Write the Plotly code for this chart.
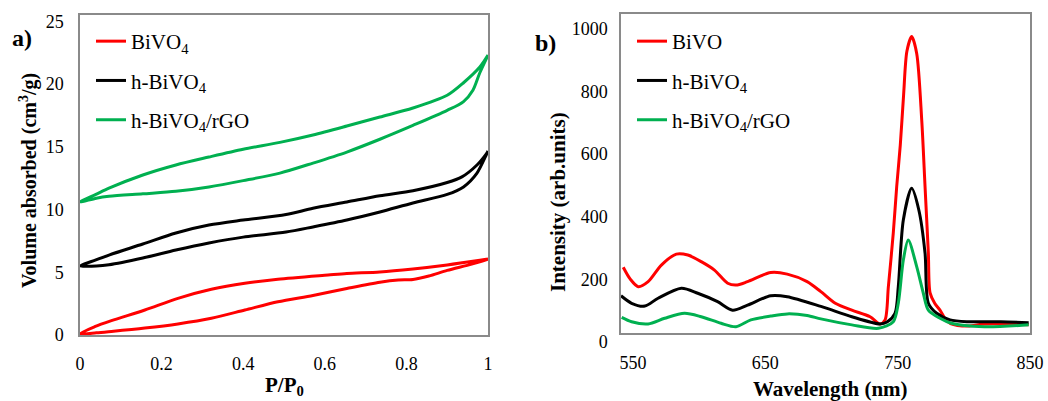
import plotly.graph_objects as go

# ---------------- Panel a) N2 adsorption-desorption isotherms ----------------
red_ads_p = [0, 0.04, 0.077, 0.159, 0.24, 0.322, 0.404, 0.485, 0.571, 0.654, 0.735, 0.78, 0.816, 0.855, 0.90, 0.96, 1.0]
red_ads_v = [0.1, 0.17, 0.28, 0.55, 0.88, 1.33, 1.99, 2.65, 3.15, 3.7, 4.2, 4.38, 4.42, 4.7, 5.15, 5.65, 6.05]
red_des_p = [1.0, 0.98, 0.90, 0.816, 0.735, 0.654, 0.608, 0.485, 0.404, 0.322, 0.24, 0.159, 0.077, 0.036, 0]
red_des_v = [6.05, 5.95, 5.58, 5.26, 5.02, 4.9, 4.78, 4.44, 4.12, 3.64, 2.92, 1.99, 1.14, 0.66, 0.1]

blk_ads_p = [0, 0.04, 0.071, 0.154, 0.235, 0.316, 0.40, 0.505, 0.571, 0.654, 0.735, 0.816, 0.90, 0.94, 0.973, 0.995, 1.0]
blk_ads_v = [5.5, 5.5, 5.6, 6.14, 6.77, 7.33, 7.8, 8.2, 8.61, 9.16, 9.8, 10.52, 11.2, 11.8, 12.9, 14.3, 14.65]
blk_des_p = [1.0, 0.995, 0.973, 0.936, 0.90, 0.816, 0.735, 0.654, 0.571, 0.505, 0.40, 0.316, 0.235, 0.154, 0.071, 0.039, 0]
blk_des_v = [14.65, 14.4, 13.55, 12.6, 12.15, 11.5, 11.1, 10.6, 10.1, 9.6, 9.16, 8.76, 8.13, 7.25, 6.37, 5.98, 5.5]

grn_ads_p = [0, 0.04, 0.071, 0.154, 0.235, 0.316, 0.40, 0.49, 0.571, 0.654, 0.735, 0.816, 0.90, 0.94, 0.963, 0.98, 1.0]
grn_ads_v = [10.6, 10.9, 11.05, 11.25, 11.45, 11.8, 12.3, 12.9, 13.7, 14.58, 15.6, 16.7, 17.9, 18.6, 19.5, 20.9, 22.3]
grn_des_p = [1.0, 0.98, 0.94, 0.90, 0.816, 0.735, 0.654, 0.571, 0.49, 0.40, 0.316, 0.235, 0.154, 0.071, 0.039, 0]
grn_des_v = [22.3, 21.35, 20.1, 19.1, 18.09, 17.37, 16.65, 15.94, 15.35, 14.8, 14.18, 13.55, 12.75, 11.7, 11.2, 10.6]

iso_x_ticks = [0, 0.2, 0.4, 0.6, 0.8, 1]
iso_y_ticks = [0, 5, 10, 15, 20, 25]

# ---------------- Panel b) PL spectra ----------------
red_wl = [542.7, 548, 554, 561.5, 571.5, 582.8, 591.5, 601.6, 611.6, 621.6, 627.9, 636.6, 654.1, 666.6, 681.6, 692,
          702.9, 715.4, 729.2, 736.7, 740.5, 743, 746.7, 749.3, 752, 754.5, 757, 760.6, 764.4, 768.2, 770.7, 773.2,
          774.5, 778, 782, 786, 790, 803, 815.5, 835.5, 849]
red_pl = [210, 172, 148, 164, 217, 252, 249, 228, 201, 159, 153, 164, 193, 188, 164, 132,
          95, 73, 52, 29, 42, 148, 319, 468, 600, 760, 900, 947, 893, 680, 468, 255,
          128, 95, 73, 45, 30, 22, 29, 29, 26]

blk_wl = [541, 549, 559, 569, 586.6, 599, 614, 625.3, 636.6, 654.1, 666.6, 692, 715.4, 736.7, 742, 748, 750.5,
          754.3, 760.6, 766, 770.7, 773.2, 779.5, 789.6, 803, 828, 849]
blk_pl = [119, 95, 86, 111, 143, 127, 100, 73, 89, 119, 116, 85, 52, 29, 35, 63, 148,
          361, 462, 393, 255, 95, 63, 42, 36, 36, 33]

grn_wl = [541.5, 549, 561.5, 574, 589, 601.6, 616.6, 627.9, 639.1, 654.1, 666.6, 681.6, 692, 715.4, 735.5,
          746.7, 750.5, 754.3, 758, 764.4, 769.4, 773.2, 782, 790.5, 815.5, 849]
grn_pl = [50, 36, 29, 47, 63, 52, 31, 20, 42, 54, 61, 56, 45, 26, 15,
          36, 95, 233, 297, 212, 127, 73, 47, 31, 20, 26]

pl_x_ticks = [550, 650, 750, 850]
pl_y_ticks = [0, 200, 400, 600, 800, 1000]

RED = "#FF0000"
BLACK = "#000000"
GREEN = "#00B050"
FONT = "Liberation Serif"
LW = 3

fig = go.Figure()

iso = [
    ("BiVO<sub>4</sub>", red_ads_p + red_des_p, red_ads_v + red_des_v, RED),
    ("h-BiVO<sub>4</sub>", blk_ads_p + blk_des_p, blk_ads_v + blk_des_v, BLACK),
    ("h-BiVO<sub>4</sub>/rGO", grn_ads_p + grn_des_p, grn_ads_v + grn_des_v, GREEN),
]
for i, (name, x, y, c) in enumerate(iso):
    fig.add_trace(go.Scatter(x=x, y=y, mode="lines", name=name,
                             line=dict(color=c, width=LW, shape="spline", smoothing=0.8),
                             xaxis="x", yaxis="y", legend="legend", legendgroup=f"a{i}"))

pl = [
    ("BiVO", red_wl, red_pl, RED),
    ("h-BiVO<sub>4</sub>", blk_wl, blk_pl, BLACK),
    ("h-BiVO<sub>4</sub>/rGO", grn_wl, grn_pl, GREEN),
]
for i, (name, x, y, c) in enumerate(pl):
    fig.add_trace(go.Scatter(x=x, y=y, mode="lines", name=name,
                             line=dict(color=c, width=LW, shape="spline", smoothing=0.8),
                             xaxis="x2", yaxis="y2", legend="legend2", legendgroup=f"b{i}"))

W, H = 1048, 401
axcommon = dict(showgrid=False, zeroline=False, showline=True, mirror=True,
                linecolor="#8a8a8a", linewidth=1.5, ticks="", automargin=False,
                tickfont=dict(family=FONT, size=18, color="black"))

legcommon = dict(font=dict(family=FONT, size=21, color="black"), bgcolor="rgba(0,0,0,0)",
                 borderwidth=0, tracegroupgap=9, traceorder="grouped",
                 xanchor="left", yanchor="top")

fig.update_layout(
    width=W, height=H,
    margin=dict(l=0, r=0, t=0, b=0, pad=0, autoexpand=False),
    paper_bgcolor="white", plot_bgcolor="white",
    showlegend=True,
    xaxis=dict(domain=[80 / W, 488 / W], range=[0, 1], tickvals=iso_x_ticks,
               ticktext=[str(v) for v in iso_x_ticks], ticklabelstandoff=12, anchor="y", **axcommon),
    yaxis=dict(domain=[1 - 335 / H, 1 - 15 / H], range=[0, 25.5], tickvals=iso_y_ticks,
               ticklabelstandoff=11, anchor="x", **axcommon),
    xaxis2=dict(domain=[621 / W, 1030 / W], range=[541, 850], tickvals=pl_x_ticks,
                ticklabelstandoff=13, anchor="y2", **axcommon),
    yaxis2=dict(domain=[1 - 333 / H, 1 - 14 / H], range=[0, 1019], tickvals=pl_y_ticks,
                ticklabelstandoff=8, ticklabelshift=9, anchor="x2", **axcommon),
    legend=dict(x=91 / W, y=1 - 21 / H, **legcommon),
    legend2=dict(x=632 / W, y=1 - 21 / H, **legcommon),
)

ann = [
    dict(text="<b>a)</b>", x=22 / W, y=1 - 38 / H, size=24, angle=0),
    dict(text="<b>b)</b>", x=545 / W, y=1 - 43 / H, size=24, angle=0),
    dict(text="<b>P/P<sub>0</sub></b>", x=284 / W, y=1 - 386 / H, size=21, angle=0),
    dict(text="<b>Wavelength (nm)</b>", x=830 / W, y=1 - 389 / H, size=21, angle=0),
    dict(text="<b>Volume absorbed (cm<sup>3</sup>/g)</b>", x=28 / W, y=1 - 181 / H, size=20, angle=-90),
    dict(text="<b>Intensity (arb.units)</b>", x=558 / W, y=1 - 202 / H, size=21, angle=-90),
]
for a in ann:
    fig.add_annotation(text=a["text"], x=a["x"], y=a["y"], xref="paper", yref="paper",
                       xanchor="center", yanchor="middle", showarrow=False, textangle=a["angle"],
                       font=dict(family=FONT, size=a["size"], color="black"))

fig.write_html("out.html")
